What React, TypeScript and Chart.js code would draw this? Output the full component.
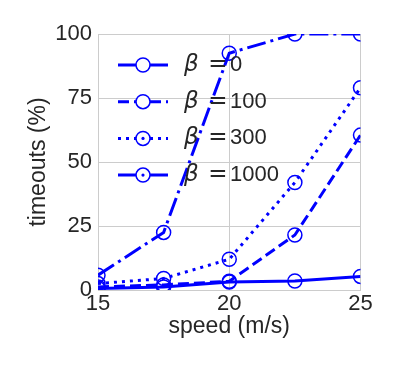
import React, { useEffect, useRef } from 'react';
import { Chart, registerables } from 'chart.js';

Chart.register(...registerables);

const speeds = [15, 17.5, 20, 22.5, 25];
const beta0 = [0.6, 1.2, 3.1, 3.5, 5.3];
const beta100 = [1.2, 2.0, 3.4, 21.5, 60.5];
const beta300 = [2.5, 4.5, 12.0, 42.0, 79.0];
const beta1000 = [5.8, 22.5, 92.5, 100, 100];
const betaLabels = ['0', '100', '300', '1000'];
const seriesValues = [beta0, beta100, beta300, beta1000];
const dashes = [[], [11, 5], [3, 5], [19, 5, 3, 5]];
const centerDot = [false, false, true, true];
const xTicks = [15, 20, 25];
const yTicks = [0, 25, 50, 75, 100];
const xTitle = 'speed (m/s)';
const yTitle = 'timeouts (%)';

const BLUE = '#0000ff';
const GRID = '#cccccc';
const TEXT = '#262626';
const FONT = "'Liberation Sans', Arial, sans-serif";
const MATH = "'DejaVu Sans', sans-serif";

const legendPlugin = {
  id: 'inlegend',
  afterDatasetsDraw(chart: any) {
    const ctx = chart.ctx as CanvasRenderingContext2D;
    const a = chart.chartArea;
    betaLabels.forEach((lab, i) => {
      const y = a.top + 31 + i * 36.7;
      const x0 = a.left + 20;
      const x1 = a.left + 70;
      const xm = a.left + 45;
      ctx.save();
      ctx.strokeStyle = BLUE;
      ctx.lineWidth = 3;
      ctx.lineCap = 'butt';
      ctx.setLineDash(dashes[i]);
      ctx.beginPath();
      ctx.moveTo(x0, y);
      ctx.lineTo(x1, y);
      ctx.stroke();
      ctx.setLineDash([]);
      ctx.fillStyle = '#ffffff';
      ctx.lineWidth = 1.5;
      ctx.beginPath();
      ctx.arc(xm, y, 7, 0, Math.PI * 2);
      ctx.fill();
      ctx.stroke();
      if (centerDot[i]) {
        ctx.fillStyle = BLUE;
        ctx.beginPath();
        ctx.arc(xm, y, 1.6, 0, Math.PI * 2);
        ctx.fill();
      }
      ctx.fillStyle = TEXT;
      ctx.textBaseline = 'middle';
      ctx.textAlign = 'left';
      ctx.font = `oblique 23px ${MATH}`;
      ctx.fillText('β', a.left + 86, y);
      ctx.font = `23px ${MATH}`;
      ctx.textAlign = 'center';
      ctx.fillText('=', a.left + 120, y);
      ctx.font = `22px ${FONT}`;
      ctx.textAlign = 'left';
      ctx.fillText(lab, a.left + 132, y);
      ctx.restore();
    });
  },
};

export default function App() {
  const ref = useRef<HTMLCanvasElement>(null);
  useEffect(() => {
    if (!ref.current) return;
    const chart = new Chart(ref.current, {
      type: 'line',
      data: {
        datasets: seriesValues.map((vals, i) => ({
          label: 'β = ' + betaLabels[i],
          data: vals.map((v, j) => ({ x: speeds[j], y: v })),
          borderColor: BLUE,
          borderWidth: 3,
          borderDash: dashes[i],
          borderCapStyle: 'butt',
          pointRadius: 7,
          pointHoverRadius: 7,
          pointBorderWidth: 1.5,
          pointBorderColor: BLUE,
          pointBackgroundColor: 'rgba(0,0,0,0)',
          fill: false,
          tension: 0,
          clip: 0,
        })),
      },
      options: {
        animation: false,
        responsive: false,
        events: [],
        layout: { padding: { left: 0, top: 34, right: 38.5, bottom: 0 } },
        plugins: { legend: { display: false }, tooltip: { enabled: false } },
        scales: {
          x: {
            type: 'linear',
            min: 15,
            max: 25,
            afterBuildTicks: (s: any) => {
              s.ticks = xTicks.map((v) => ({ value: v }));
            },
            afterFit: (s: any) => {
              s.height = 82;
            },
            grid: { color: GRID, lineWidth: 1, drawTicks: false },
            border: { display: true, color: GRID, width: 1 },
            ticks: { color: TEXT, font: { family: FONT, size: 22 }, padding: 1, maxRotation: 0 },
            title: {
              display: true,
              text: xTitle,
              color: TEXT,
              font: { family: FONT, size: 23 },
              padding: { top: 0, bottom: 32 },
            },
          },
          y: {
            type: 'linear',
            min: 0,
            max: 100,
            afterBuildTicks: (s: any) => {
              s.ticks = yTicks.map((v) => ({ value: v }));
            },
            afterFit: (s: any) => {
              s.width = 98;
            },
            grid: { color: GRID, lineWidth: 1, drawTicks: false },
            border: { display: true, color: GRID, width: 1 },
            ticks: { color: TEXT, font: { family: FONT, size: 22 }, padding: 6 },
            title: {
              display: true,
              text: yTitle,
              color: TEXT,
              font: { family: FONT, size: 23 },
              padding: { top: 25, bottom: 0 },
            },
          },
        },
      },
      plugins: [legendPlugin],
    } as any);
    return () => chart.destroy();
  }, []);
  return (
    <div style={{ position: 'absolute', left: 0, top: 0, width: 399, height: 372, background: '#fff' }}>
      <canvas ref={ref} width={399} height={372} style={{ display: 'block' }} />
    </div>
  );
}
